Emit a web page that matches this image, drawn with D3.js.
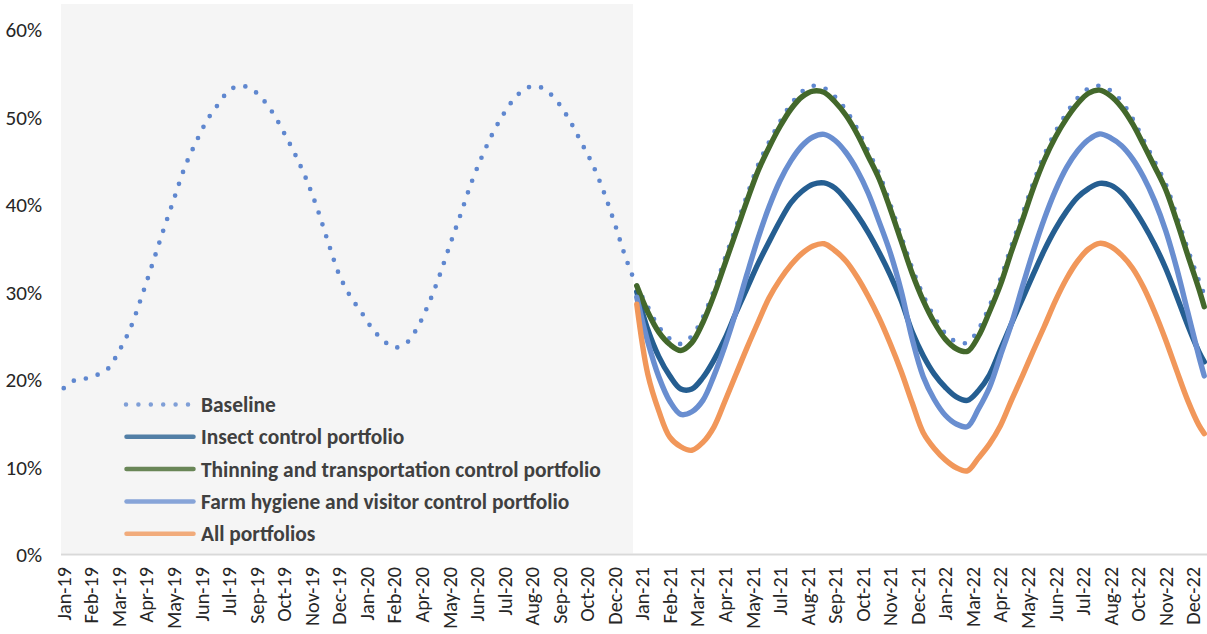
<!DOCTYPE html>
<html>
<head>
<meta charset="utf-8">
<script src="https://cdn.jsdelivr.net/npm/d3@7"></script>
<style>
  html, body { margin: 0; padding: 0; background: #ffffff; }
  svg { display: block; }
</style>
</head>
<body>
<svg id="chart" width="1207" height="634"></svg>
<script>
// ---------------- DATA ----------------
const nWeeks = 208;            // weekly categories Jan-19 .. Dec-22
const tickEvery = 5;           // a label every 5th category
const historyWeeks = 104;      // shaded historical period (first two years)
const tickLabels = ["Jan-19","Feb-19","Mar-19","Apr-19","May-19","Jun-19","Jul-19","Sep-19","Oct-19","Nov-19","Dec-19",
  "Jan-20","Feb-20","Apr-20","May-20","Jun-20","Jul-20","Aug-20","Sep-20","Oct-20","Dec-20",
  "Jan-21","Feb-21","Mar-21","Apr-21","May-21","Jul-21","Aug-21","Sep-21","Oct-21","Nov-21","Dec-21",
  "Jan-22","Mar-22","Apr-22","May-22","Jun-22","Jul-22","Aug-22","Oct-22","Nov-22","Dec-22"];
const yTicks = [0, 0.1, 0.2, 0.3, 0.4, 0.5, 0.6];

// sampled weeks (every 2nd week, plus the last week)
const baselineWeeks = d3.range(0, nWeeks, 2).concat([nWeeks - 1]);
const portfolioWeeks = d3.range(historyWeeks, nWeeks, 2).concat([nWeeks - 1]);

// values in percent
const baseline = [
  18.9,19.8,20.0,20.4,21.1,23.1,25.6,29.1,32.9,36.8,
  40.5,44.2,47.0,49.5,51.3,52.9,53.45,53.1,52.0,50.3,
  48.05,45.6,42.8,39.45,35.55,31.85,29.4,27.6,25.7,24.35,
  23.55,23.95,25.6,28.2,31.4,35.1,38.7,42.4,45.5,48.2,
  50.4,52.15,53.2,53.4,52.7,51.3,49.3,46.9,44.45,41.35,
  37.7,33.8,30.6,28.2,25.9,24.55,23.95,24.85,27.0,30.05,
  33.7,37.3,40.9,44.35,47.0,49.35,51.35,52.8,53.45,53.2,
  52.2,50.65,48.55,46.0,43.4,39.95,36.25,32.6,29.5,27.05,
  25.15,24.2,24.1,25.6,28.25,31.35,35.15,38.75,42.4,45.6,
  48.2,50.3,52.05,53.15,53.45,52.9,51.65,49.7,47.25,44.8,
  42.25,38.6,34.8,31.25,
  29.6
];
const insect = [
  29.9,25.6,22.5,20.3,18.8,18.8,20.1,22.1,24.55,27.5,
  30.3,33.1,35.6,38.0,40.1,41.4,42.2,42.35,41.75,40.4,
  38.7,36.7,34.4,31.85,28.9,25.3,22.6,20.5,19.0,17.9,
  17.5,18.6,20.4,23.3,26.25,29.1,31.95,34.7,37.1,39.1,
  40.7,41.7,42.3,42.1,41.2,39.6,37.6,35.3,32.6,29.4,
  26.1,23.1,
  21.9
];
const thinning = [
  30.6,27.6,25.3,23.9,23.2,24.1,26.4,29.5,33.1,36.7,
  40.3,43.7,46.4,48.8,50.8,52.2,52.85,52.7,51.6,50.05,
  47.95,45.4,42.8,39.4,35.7,32.0,28.9,26.4,24.5,23.4,
  23.1,24.8,27.6,30.7,34.5,38.1,41.8,45.0,47.6,49.7,
  51.4,52.6,52.95,52.3,51.0,49.1,46.7,44.2,41.6,38.0,
  34.1,30.3,
  28.2
];
const farm = [
  29.3,24.2,20.2,17.4,15.9,16.2,17.5,20.3,23.7,27.6,
  31.9,36.0,39.6,42.6,44.9,46.6,47.6,47.9,47.2,45.8,
  43.8,41.2,37.9,34.4,30.0,24.5,20.2,17.6,15.8,14.8,
  14.5,16.5,18.95,22.6,26.25,30.5,34.6,38.3,41.5,44.1,
  46.0,47.3,47.95,47.5,46.6,45.1,43.0,40.3,36.9,32.6,
  27.6,22.6,
  20.3
];
const allPortfolios = [
  28.5,20.5,16.3,13.3,12.2,11.8,12.7,14.45,17.4,20.45,
  23.5,26.4,29.2,31.3,33.0,34.3,35.15,35.4,34.6,33.4,
  31.6,29.4,26.9,24.0,20.8,17.2,13.8,12.0,10.7,9.8,
  9.45,10.9,12.5,14.6,17.5,20.3,23.2,26.0,28.9,31.4,
  33.4,34.8,35.45,35.1,34.1,32.6,30.4,27.6,24.4,20.9,
  17.5,14.7,
  13.7
];

const seriesNames = ["Baseline","Insect control portfolio","Thinning and transportation control portfolio",
  "Farm hygiene and visitor control portfolio","All portfolios"];
const seriesColors = ["#5f87cf","#255e91","#43682b","#698ed0","#f1975a"];

// ---------------- CHART ----------------
const svg = d3.select("#chart");
const FONT = "Calibri, Carlito, Lato, 'Open Sans', sans-serif";
const plot = {left: 61, right: 1207, top: 4, bottom: 553.5};

const x = d3.scaleBand().domain(d3.range(nWeeks)).range([plot.left, plot.right]).padding(0);
const xc = i => x(i) + x.bandwidth() / 2;
const y = d3.scaleLinear().domain([0, 0.6]).range([553.5, 28.5]);

function fitSize(text, weight, target) {
  const t = svg.append("text").attr("font-family", FONT).attr("font-weight", weight)
    .attr("font-size", 20).text(text);
  const w = t.node().getComputedTextLength();
  t.remove();
  return 20 * target / w;
}

// shaded history area
svg.append("rect")
  .attr("x", x(0)).attr("y", plot.top)
  .attr("width", x(historyWeeks - 1) + x.bandwidth() - x(0) - 1)
  .attr("height", plot.bottom - plot.top)
  .attr("fill", "#f5f5f5");

// x axis line
svg.append("line").attr("x1", plot.left).attr("x2", plot.right)
  .attr("y1", 554.5).attr("y2", 554.5).attr("stroke", "#d9d9d9").attr("stroke-width", 2);

// y axis labels
const yFont = fitSize("60%", 400, 36.5);
const yAxis = d3.axisLeft(y).tickValues(yTicks).tickFormat(d3.format(".0%")).tickSize(0).tickPadding(0);
const gy = svg.append("g").attr("transform", "translate(42,1)").call(yAxis);
gy.select(".domain").remove();
gy.selectAll("text").attr("font-family", FONT).attr("font-size", yFont).attr("fill", "#262626").attr("dy", "0.35em");

// x axis labels
const xFont = fitSize("Jan-19", 400, 53.5);
const xAxis = d3.axisBottom(x)
  .tickValues(d3.range(0, nWeeks, tickEvery))
  .tickFormat(i => tickLabels[i / tickEvery])
  .tickSize(0);
const gx = svg.append("g").attr("transform", "translate(0,553.5)").call(xAxis);
gx.select(".domain").remove();
gx.selectAll("text")
  .attr("font-family", FONT).attr("font-size", xFont).attr("fill", "#262626")
  .attr("text-anchor", "end")
  .attr("transform", "rotate(-90)")
  .attr("x", -13.5).attr("y", 0).attr("dy", "0.35em");

// lines
const line = d3.line()
  .x(d => xc(d[0]))
  .y(d => y(d[1] / 100))
  .curve(d3.curveCatmullRom.alpha(0.5));

const seriesData = [
  baselineWeeks.map((w, i) => [w, baseline[i]]),
  portfolioWeeks.map((w, i) => [w, insect[i]]),
  portfolioWeeks.map((w, i) => [w, thinning[i]]),
  portfolioWeeks.map((w, i) => [w, farm[i]]),
  portfolioWeeks.map((w, i) => [w, allPortfolios[i]])
];

seriesData.forEach((d, k) => {
  const p = svg.append("path").attr("d", line(d)).attr("fill", "none")
    .attr("stroke", seriesColors[k]).attr("stroke-linecap", "round").attr("stroke-linejoin", "round");
  if (k === 0) {
    p.attr("stroke-width", 4.7).attr("stroke-dasharray", "0 12.4");
  } else {
    p.attr("stroke-width", 5.4);
  }
});

// legend
const legFont = fitSize(seriesNames[2], 700, 400);
const leg = svg.append("g");
seriesNames.forEach((name, k) => {
  const ry = 404.5 + k * 32.3;
  const s = leg.append("line").attr("y1", ry).attr("y2", ry)
    .attr("stroke", seriesColors[k]).attr("stroke-linecap", "round").attr("opacity", 0.78);
  if (k === 0) {
    s.attr("x1", 126).attr("x2", 189).attr("stroke-width", 4.5).attr("stroke-dasharray", "0 12.4");
  } else {
    s.attr("x1", 126.5).attr("x2", 193.5).attr("stroke-width", 4.5);
  }
  leg.append("text").attr("x", 201).attr("y", ry).attr("dy", "0.35em")
    .attr("font-family", FONT).attr("font-weight", 700).attr("font-size", legFont)
    .attr("fill", "#404040").text(name);
});
</script>
</body>
</html>
